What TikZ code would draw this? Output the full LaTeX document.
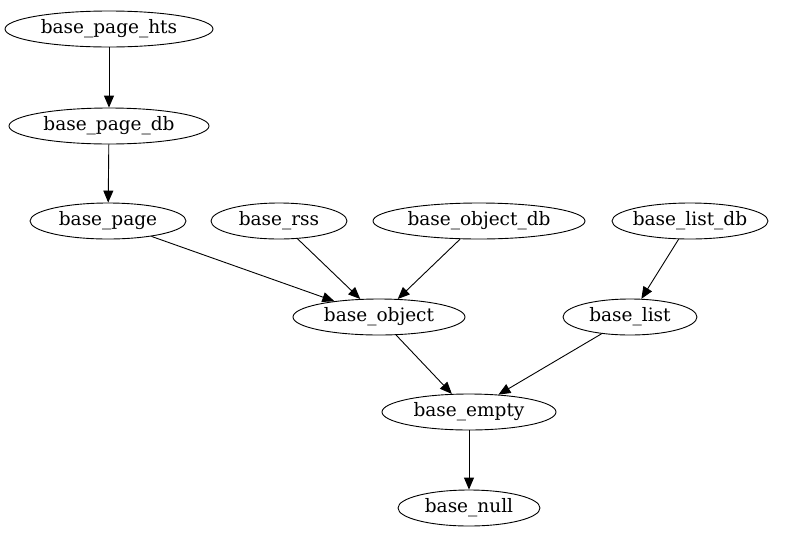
\documentclass[tikz,border=0pt]{standalone}
\usepackage{fontspec}
\setmainfont{DejaVu Serif}
\usetikzlibrary{arrows.meta, shapes.geometric}
\tikzset{
    cls/.style={draw, ellipse, inner sep=0pt, inner xsep=-15pt, minimum height=36pt,
        font=\fontsize{18.5}{20}\selectfont},
    dep/.style={-{Triangle[length=12pt, width=10pt]}, line width=0.9pt},
}
\begin{document}
\begin{tikzpicture}[x=1pt, y=-1pt, line width=0.9pt]
        \useasboundingbox (0,0) rectangle (798,539);

        % Klasses
        \node[cls, minimum width=208pt] (HTS) at (109,29)  {base\_page\_hts};
        \node[cls, minimum width=200pt] (PDB) at (109,126) {base\_page\_db};
        \node[cls, minimum width=156pt] (P)   at (108,221) {base\_page};
        \node[cls, minimum width=136pt] (RSS) at (279,221) {base\_rss};
        \node[cls, minimum width=212pt] (ODB) at (479,221) {base\_object\_db};
        \node[cls, minimum width=156pt] (LDB) at (690,221) {base\_list\_db};
        \node[cls, minimum width=172pt] (O)   at (379,317) {base\_object};
        \node[cls, minimum width=134pt] (L)   at (630,317) {base\_list};
        \node[cls, minimum width=174pt] (E)   at (469,412) {base\_empty};
        \node[cls, minimum width=142pt] (N)   at (469,508) {base\_null};

        % Paveldejimas
        \draw[dep] (HTS) -- (PDB);
        \draw[dep] (PDB) -- (P);
        \draw[dep] (P) -- (O);
        \draw[dep] (RSS) -- (O);
        \draw[dep] (ODB) -- (O);
        \draw[dep] (LDB) -- (L);
        \draw[dep] (O) -- (E);
        \draw[dep] (L) -- (E);
        \draw[dep] (E) -- (N);
    \end{tikzpicture}
\end{document}
